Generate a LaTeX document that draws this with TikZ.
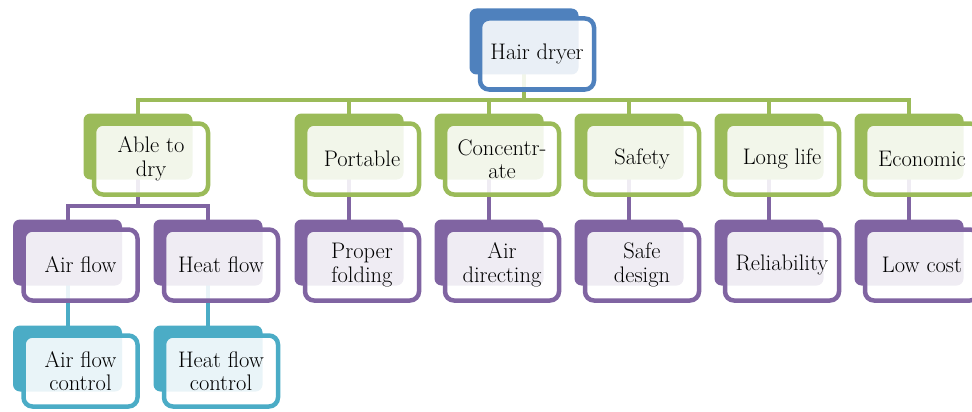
\documentclass[tikz,border=0pt]{standalone}
\usepackage{fontspec}
\pgfdeclarelayer{conn}
\pgfdeclarelayer{back}
\pgfsetlayers{conn,back,main}
\definecolor{cblue}{HTML}{4F81BD}
\definecolor{cgreen}{HTML}{9BBB59}
\definecolor{cpurple}{HTML}{8064A2}
\definecolor{cteal}{HTML}{4BACC6}
\tikzset{
  backbox/.style={rectangle, rounded corners=7pt, draw=none, minimum width=109pt, minimum height=66pt, inner sep=0pt},
  frontbox/.style={rectangle, rounded corners=9pt, line width=4.5pt, fill=white, fill opacity=0.88, text opacity=1, draw opacity=1,
    minimum width=114pt, minimum height=71pt, inner sep=0pt, align=center, text=black,
    font=\rmfamily\fontsize{22.5}{23.5}\selectfont},
  conn/.style={line width=4pt, line join=miter}
}
\newcommand{\hbx}[5]{%
  \begin{pgfonlayer}{back}\node[backbox, fill=#4] (#1b) at ({#2-13},{#3-12.5}) {};\end{pgfonlayer}%
  \node[frontbox, draw=#4] (#1) at (#2,#3) {#5};}
\begin{document}
\begin{tikzpicture}[x=1pt,y=-1pt]
\useasboundingbox (0,0) rectangle (972,412);
\hbx{hair}{537}{54}{cblue}{Hair dryer}
\hbx{ad}{151}{159}{cgreen}{Able to\\dry}
\hbx{po}{362}{159}{cgreen}{Portable}
\hbx{co}{502}{159}{cgreen}{Concentr-\\ate}
\hbx{sa}{642}{159}{cgreen}{Safety}
\hbx{ll}{782}{159}{cgreen}{Long life}
\hbx{ec}{922}{159}{cgreen}{Economic}
\hbx{af}{80.5}{265}{cpurple}{Air flow}
\hbx{hf}{221}{265}{cpurple}{Heat flow}
\hbx{pf}{362}{265}{cpurple}{Proper\\folding}
\hbx{adr}{502}{265}{cpurple}{Air\\directing}
\hbx{sd}{642}{265}{cpurple}{Safe\\design}
\hbx{re}{782}{265}{cpurple}{Reliability}
\hbx{lc}{922}{265}{cpurple}{Low cost}
\hbx{afc}{80.5}{371}{cteal}{Air flow\\control}
\hbx{hfc}{221}{371}{cteal}{Heat flow\\control}
\coordinate (busa) at (0,100);
\coordinate (busb) at (0,206);
\begin{pgfonlayer}{conn}
\draw[conn, cgreen] (hair.center) ++(-13,0) coordinate (hairc) -- (hairc |- busa);
\draw[conn, cgreen] (adb.center) -- (adb.center |- busa) -- (ecb.center |- busa) -- (ecb.center);
\foreach \n in {po,co,sa,ll}{\draw[conn, cgreen] (\n b.center |- busa) -- (\n b.center);}
\draw[conn, cpurple] (ad.center) ++(-13,0) coordinate (adc) -- (adc |- busb);
\draw[conn, cpurple] (afb.center) -- (afb.center |- busb) -- (hfb.center |- busb) -- (hfb.center);
\draw[conn, cpurple] (po.center) ++(-13,0) -- (pfb.center);
\draw[conn, cpurple] (co.center) ++(-13,0) -- (adrb.center);
\draw[conn, cpurple] (sa.center) ++(-13,0) -- (sdb.center);
\draw[conn, cpurple] (ll.center) ++(-13,0) -- (reb.center);
\draw[conn, cpurple] (ec.center) ++(-13,0) -- (lcb.center);
\draw[conn, cteal] (af.center) ++(-13,0) -- (afcb.center);
\draw[conn, cteal] (hf.center) ++(-13,0) -- (hfcb.center);
\end{pgfonlayer}
\end{tikzpicture}
\end{document}
